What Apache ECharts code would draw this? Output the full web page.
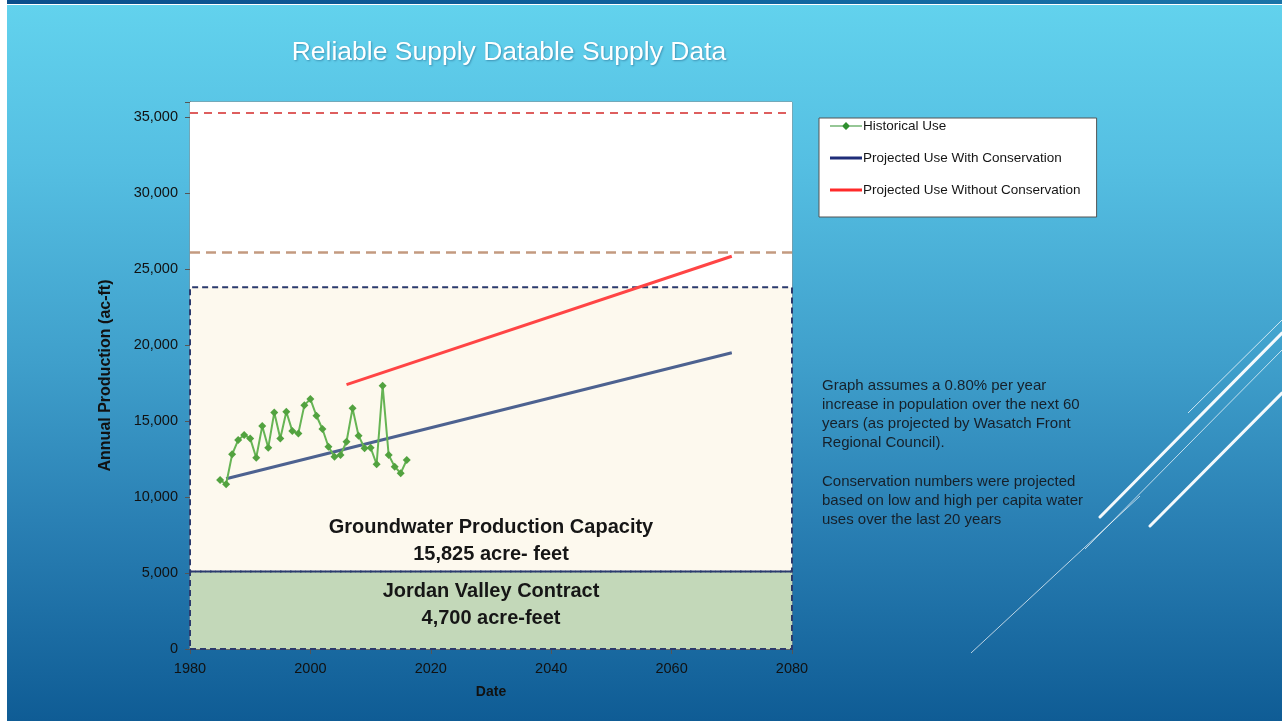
<!DOCTYPE html>
<html>
<head>
<meta charset="utf-8">
<script src="https://cdn.jsdelivr.net/npm/echarts@6/dist/echarts.min.js"></script>
<style>
  html, body { margin:0; padding:0; background:#ffffff; }
  #stage { position:relative; width:1282px; height:721px; overflow:hidden; background:#ffffff; }
  #band { position:absolute; left:7px; top:0; width:1275px; height:4px; background:linear-gradient(90deg,#0b4f8c,#1066a0 60%,#1a74a8); }
  #bg { position:absolute; left:7px; top:5px; width:1275px; height:716px;
        background:linear-gradient(180deg,#62d2ed 0%,#55bfe2 22%,#3f9fcb 50%,#2a80b4 72%,#0f5c95 100%); }
  #chart { position:absolute; left:0; top:0; width:1282px; height:721px; }
</style>
</head>
<body>
<div id="stage">
  <div id="band"></div>
  <div id="bg"></div>
  <div id="chart"></div>
</div>
<script>
// ---- data ----
const historicalYears = [1985,1986,1987,1988,1989,1990,1991,1992,1993,1994,1995,1996,1997,1998,1999,2000,
                         2001,2002,2003,2004,2005,2006,2007,2008,2009,2010,2011,2012,2013,2014,2015,2016];
const historicalUse = [11125,10840,12810,13750,14080,13860,12590,14670,13250,15570,13860,15610,14340,14190,16050,16450,
                       15350,14480,13310,12660,12770,13640,15840,14040,13210,13250,12160,17320,12770,12000,11570,12440];
const conservationYears = [1986, 2070];
const conservationUse = [11200, 19500];
const noConservationYears = [2006, 2070];
const noConservationUse = [17400, 25850];
const jordanTop = 5100;          // Jordan Valley Contract box top
const groundwaterTop = 23800;    // Groundwater Production Capacity box top
const brownDashed = 26100;
const redDashed = 35300;
const xTicks = [1980, 2000, 2020, 2040, 2060, 2080];
const yTicks = [0, 5000, 10000, 15000, 20000, 25000, 30000, 35000];
const seriesNames = ['Historical Use', 'Projected Use With Conservation', 'Projected Use Without Conservation'];
const groundwaterLabel = 'Groundwater Production Capacity\n15,825 acre- feet';
const jordanLabel = 'Jordan Valley Contract\n4,700 acre-feet';
const noteText = 'Graph assumes a 0.80% per year\nincrease in population over the next 60\nyears (as projected by Wasatch Front\nRegional Council).\n\nConservation numbers were projected\nbased on low and high per capita water\nuses over the last 20 years';
const titleText = 'Reliable Supply Datable Supply Data';

const zip = (xs, ys) => xs.map((x, i) => [x, ys[i]]);
const FONT = '"Liberation Sans", Arial, sans-serif';
const xMin = xTicks[0], xMax = xTicks[xTicks.length - 1];

const lineIcon = 'path://M0,4 L32,4 L32,7 L0,7 Z';
const lineDiamondIcon = 'path://M0,5 L12.5,5 L16,1.5 L19.5,5 L32,5 L32,6 L19.5,6 L16,9.5 L12.5,6 L0,6 Z';

const chart = echarts.init(document.getElementById('chart'), null, { renderer: 'canvas' });

const option = {
  animation: false,
  textStyle: { fontFamily: FONT },
  grid: { left: 190, top: 102, right: 490, bottom: 72, show: true,
          backgroundColor: 'transparent', borderColor: '#8c8c8c', borderWidth: 1, containLabel: false },
  legend: {
    orient: 'vertical', left: 819, top: 118,
    backgroundColor: '#ffffff', borderColor: '#555555', borderWidth: 1, borderRadius: 0,
    padding: [1, 16, 20, 11], itemGap: 18, itemWidth: 32, itemHeight: 11,
    textStyle: { fontFamily: FONT, fontSize: 13.5, color: '#151515', padding: [0, 0, 0, -4] },
    data: [
      { name: seriesNames[0], icon: lineDiamondIcon, itemStyle: { color: '#2f8f2f', borderWidth: 0 } },
      { name: seriesNames[1], icon: lineIcon, itemStyle: { color: '#1f2d78', borderWidth: 0 } },
      { name: seriesNames[2], icon: lineIcon, itemStyle: { color: '#ff2a2a', borderWidth: 0 } }
    ]
  },
  xAxis: {
    type: 'value', min: xMin, max: xMax, interval: 20,
    name: 'Date', nameLocation: 'middle', nameGap: 36,
    nameTextStyle: { fontFamily: FONT, fontSize: 14, fontWeight: 'bold', color: '#111' },
    axisLine: { show: true, lineStyle: { color: '#666', width: 1 } },
    axisTick: { show: true, length: 5, lineStyle: { color: '#555' } },
    axisLabel: { fontFamily: FONT, fontSize: 14.5, color: '#111', margin: 12, formatter: v => String(v) },
    splitLine: { show: false }
  },
  yAxis: {
    type: 'value', min: 0, max: 36000, interval: 5000,
    name: 'Annual Production (ac-ft)', nameLocation: 'middle', nameGap: 76, nameRotate: 90,
    nameTextStyle: { fontFamily: FONT, fontSize: 16, fontWeight: 'bold', color: '#111' },
    axisLine: { show: true, lineStyle: { color: '#666', width: 1 } },
    axisTick: { show: true, length: 5, lineStyle: { color: '#555' } },
    axisLabel: {
      fontFamily: FONT, fontSize: 14.5, color: '#111', margin: 12,
      formatter: v => (yTicks.indexOf(v) >= 0 ? v.toLocaleString('en-US') : '')
    },
    splitLine: { show: true, lineStyle: { color: '#c9c9c9', width: 1 } }
  },
  series: [
    { // fills below gridlines
      name: 'fills', type: 'line', data: [], z: -1, silent: true,
      markArea: {
        silent: true, label: { show: false },
        data: [
          [{ coord: [xMin, 0], itemStyle: { color: '#ffffff' } }, { coord: [xMax, 36000] }],
          [{ coord: [xMin, jordanTop], itemStyle: { color: '#fdf9ee' } }, { coord: [xMax, groundwaterTop] }],
          [{ coord: [xMin, 0], itemStyle: { color: '#c3d8b9' } }, { coord: [xMax, jordanTop] }]
        ]
      }
    },
    { // dashed borders, labels, reference lines
      name: 'frames', type: 'line', data: [], z: 3, silent: true,
      markArea: {
        silent: true,
        itemStyle: { color: 'transparent', borderColor: '#2b3a6e', borderWidth: 2, borderType: [6, 4] },
        data: [
          [{ coord: [xMin, jordanTop],
             label: { show: true, position: 'insideBottom', distance: 5, formatter: groundwaterLabel,
                      fontFamily: FONT, fontSize: 20, fontWeight: 'bold', color: '#161616', lineHeight: 27, align: 'center' } },
           { coord: [xMax, groundwaterTop] }],
          [{ coord: [xMin, 0],
             label: { show: true, position: 'insideTop', distance: 7, formatter: jordanLabel,
                      fontFamily: FONT, fontSize: 20, fontWeight: 'bold', color: '#161616', lineHeight: 27, align: 'center' } },
           { coord: [xMax, jordanTop] }]
        ]
      },
      markLine: {
        silent: true, symbol: 'none', label: { show: false },
        data: [
          { yAxis: redDashed, lineStyle: { color: '#d42a2a', width: 1.5, type: [8, 6] } },
          { yAxis: brownDashed, lineStyle: { color: '#c39a80', width: 2.5, type: [10, 6] } }
        ]
      }
    },
    {
      name: seriesNames[1], type: 'line', data: zip(conservationYears, conservationUse), z: 4,
      symbol: 'none', lineStyle: { color: '#4d6290', width: 3 }, itemStyle: { color: '#4d6290' }
    },
    {
      name: seriesNames[2], type: 'line', data: zip(noConservationYears, noConservationUse), z: 4,
      symbol: 'none', lineStyle: { color: '#ff4545', width: 3 }, itemStyle: { color: '#ff4545' }
    },
    {
      name: seriesNames[0], type: 'line', data: zip(historicalYears, historicalUse), z: 5,
      symbol: 'diamond', symbolSize: 8,
      lineStyle: { color: '#66b454', width: 2 }, itemStyle: { color: '#52a23f' }
    }
  ],
  graphic: [
    { type: 'text', x: 509, y: 53, z: 10,
      style: { text: titleText, align: 'center', verticalAlign: 'middle',
               font: '26.5px ' + FONT, fill: '#ffffff',
               textShadowColor: 'rgba(0,40,80,0.35)', textShadowBlur: 2, textShadowOffsetX: 1, textShadowOffsetY: 1 } },
    { type: 'text', x: 822, y: 376, z: 10,
      style: { text: noteText, align: 'left', verticalAlign: 'top',
               font: '15px ' + FONT, fill: '#16202a', lineHeight: 19.2 } },
    // decorative slide lines
    { type: 'line', z: 1, silent: true, shape: { x1: 1188, y1: 413, x2: 1282, y2: 320 }, style: { stroke: 'rgba(255,255,255,0.75)', lineWidth: 1 } },
    { type: 'line', z: 1, silent: true, shape: { x1: 1100, y1: 517, x2: 1282, y2: 333 }, style: { stroke: 'rgba(255,255,255,0.95)', lineWidth: 3, lineCap: 'round' } },
    { type: 'line', z: 1, silent: true, shape: { x1: 1085, y1: 549, x2: 1282, y2: 350 }, style: { stroke: 'rgba(255,255,255,0.7)', lineWidth: 1 } },
    { type: 'line', z: 1, silent: true, shape: { x1: 1150, y1: 526, x2: 1282, y2: 393 }, style: { stroke: 'rgba(255,255,255,0.95)', lineWidth: 3, lineCap: 'round' } },
    { type: 'line', z: 1, silent: true, shape: { x1: 971, y1: 653, x2: 1140, y2: 496 }, style: { stroke: 'rgba(255,255,255,0.7)', lineWidth: 1 } }
  ]
};
chart.setOption(option);
</script>
</body>
</html>
